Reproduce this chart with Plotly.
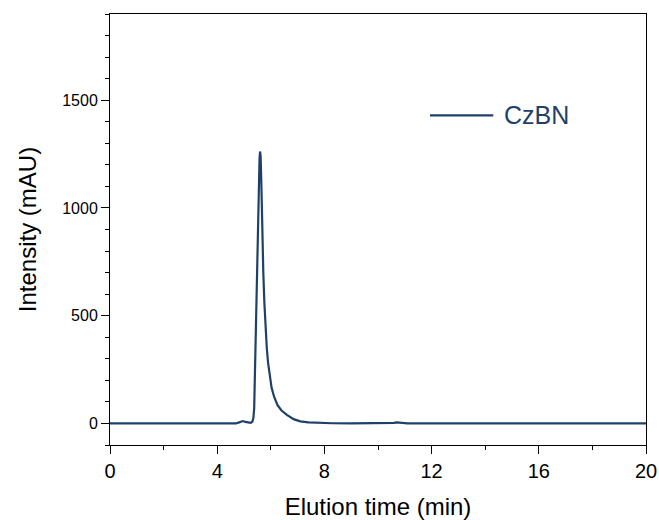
import plotly.graph_objects as go

# Elution time (min) and intensity (mAU)
time_min = [0, 3.0, 4.7, 4.82, 4.9, 4.96, 5.05, 5.15, 5.25, 5.31, 5.35, 5.38, 5.40, 5.43,
            5.47, 5.51, 5.55, 5.58, 5.60, 5.62, 5.65, 5.68, 5.72, 5.76, 5.80, 5.85,
            5.90, 5.96, 6.03, 6.12, 6.25, 6.40, 6.60, 6.85, 7.10, 7.40, 7.80, 8.30,
            9.0, 10.45, 10.6, 10.7, 10.85, 11.1, 14.0, 17.0, 20.0]
intensity = [0, 0, 0, 5, 10, 11, 7, 4, 3, 8, 25, 70, 200, 430,
             680, 893, 1130, 1230, 1262, 1240, 1100, 893, 700, 560, 450, 350,
             280, 215, 165, 125, 85, 60, 40, 20, 10, 5, 2, 1,
             0, 0, 3, 5, 2, 0, 0, 0, 0]

series_name = "CzBN"
line_color = "#1f4068"

fig = go.Figure()
fig.add_trace(go.Scatter(x=time_min, y=intensity, mode="lines", name=series_name,
                         line=dict(color=line_color, width=2.2), showlegend=False))

font_family = "Arial, Liberation Sans, sans-serif"

fig.update_layout(
    width=659, height=520,
    margin=dict(l=110, r=13, t=14, b=75),
    paper_bgcolor="white", plot_bgcolor="white",
    font=dict(family=font_family, color="black"),
    xaxis=dict(
        range=[0, 20], tickvals=[0, 4, 8, 12, 16, 20], automargin=False,
        showline=True, mirror=True, linecolor="black", linewidth=1,
        ticks="outside", ticklen=8, tickwidth=1, tickcolor="black",
        minor=dict(dtick=2, ticks="outside", ticklen=4, tickcolor="black", showgrid=False),
        showgrid=False, zeroline=False,
        tickfont=dict(size=20),
        title=dict(text="Elution time (min)", font=dict(size=24), standoff=20),
    ),
    yaxis=dict(
        range=[-100, 1900], tickvals=[0, 500, 1000, 1500], automargin=False,
        showline=True, mirror=True, linecolor="black", linewidth=1,
        ticks="outside", ticklen=8, tickwidth=1, tickcolor="black",
        minor=dict(dtick=100, ticks="outside", ticklen=4, tickcolor="black", showgrid=False),
        showgrid=False, zeroline=False,
        tickfont=dict(size=16),
        title=dict(text="Intensity (mAU)", font=dict(size=24), standoff=18),
    ),
)

# Legend drawn manually to match the long legend line
fig.add_shape(type="line", xref="paper", yref="paper",
              x0=0.597, x1=0.715, y0=0.765, y1=0.765,
              line=dict(color=line_color, width=2.2))
fig.add_annotation(xref="paper", yref="paper", x=0.731, y=0.765,
                   xanchor="left", yanchor="middle", showarrow=False,
                   text=series_name, font=dict(size=25, color=line_color))

fig.write_html("out.html")
